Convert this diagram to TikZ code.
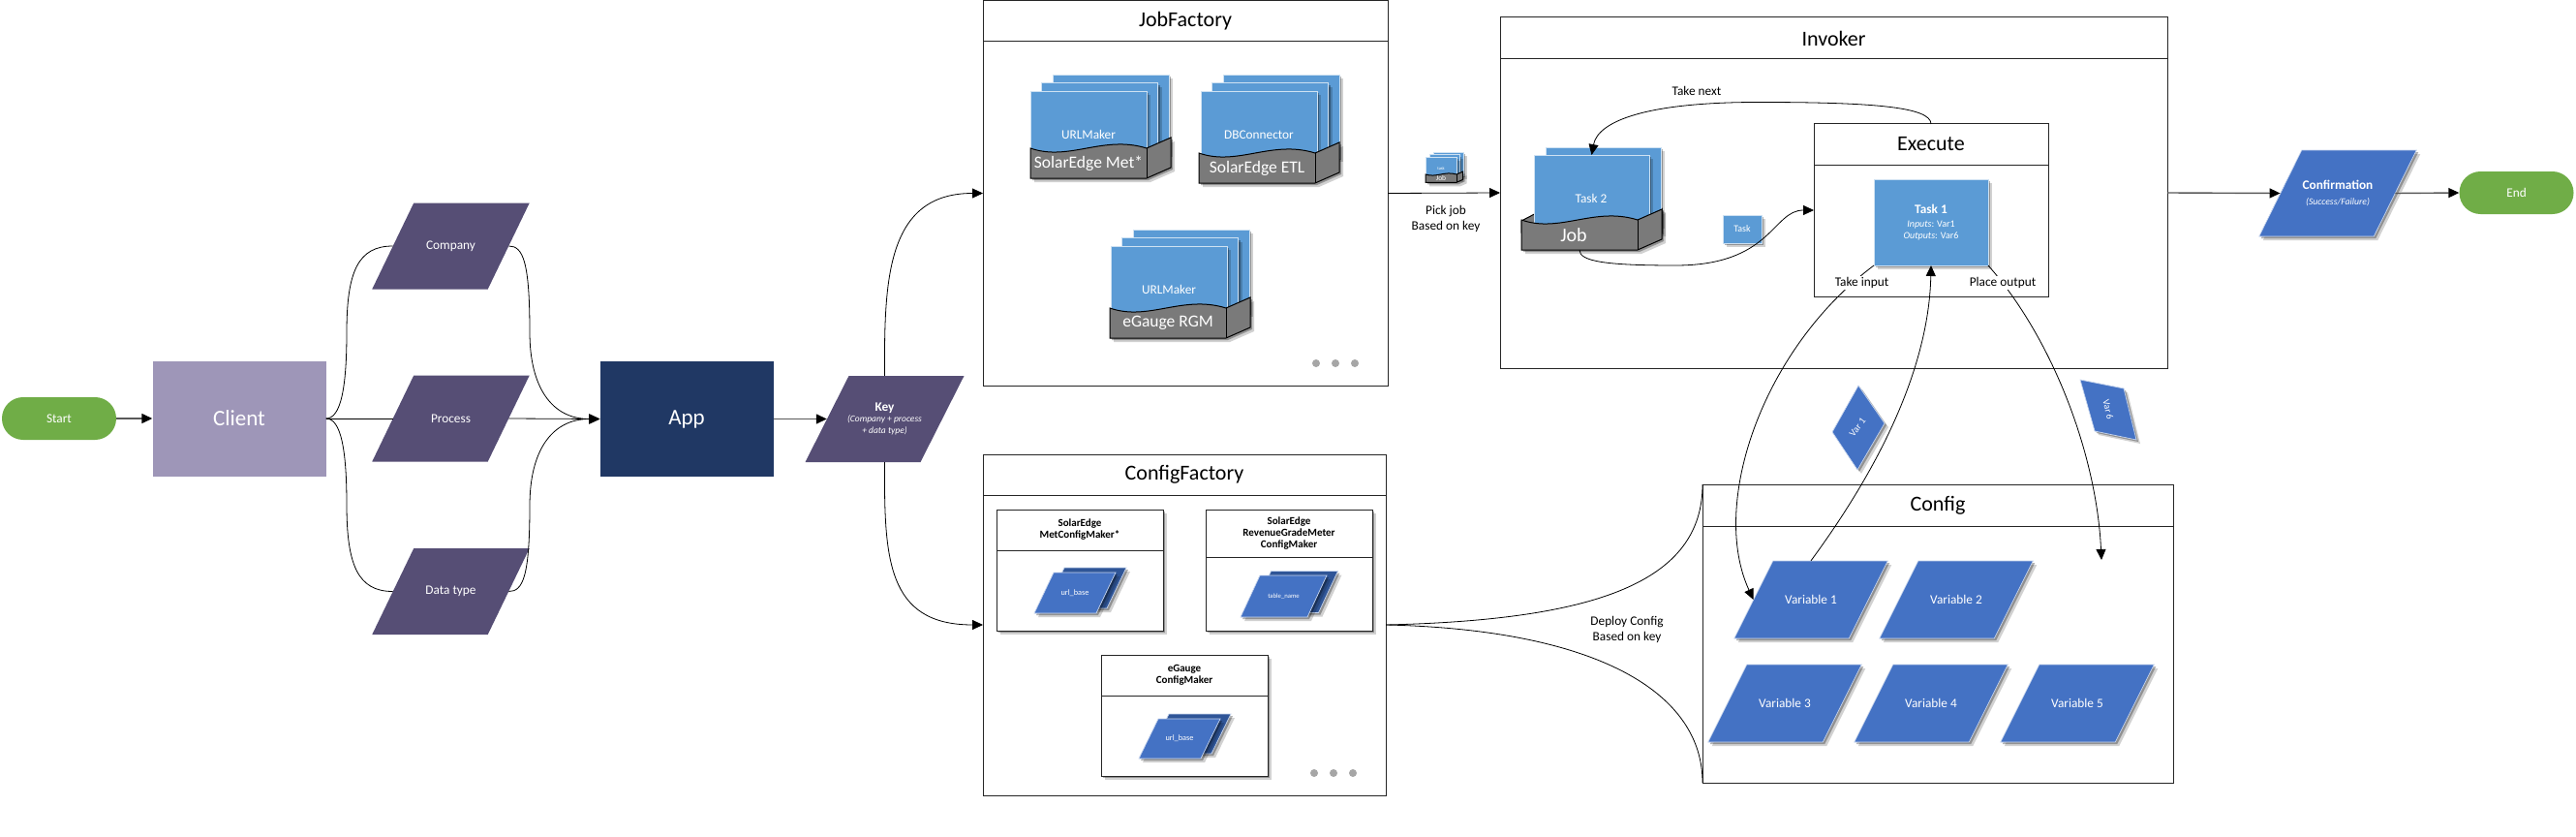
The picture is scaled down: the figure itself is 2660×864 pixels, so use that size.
\documentclass[tikz,border=0pt]{standalone}
\usepackage{fontspec}
\setmainfont{Carlito}
\usepackage{tikz}
\usetikzlibrary{positioning,arrows.meta,calc,shadows}
\definecolor{leaf}{RGB}{112,173,71}
\definecolor{lilac}{RGB}{158,150,184}
\definecolor{navy}{RGB}{32,56,100}
\definecolor{plum}{RGB}{86,78,117}
\definecolor{cobalt}{RGB}{68,114,196}
\definecolor{deepcobalt}{RGB}{47,85,151}
\definecolor{sky}{RGB}{91,155,213}
\definecolor{slab}{RGB}{122,122,122}
\newcommand{\fsz}[2]{\fontsize{#1}{#2}\selectfont}
\tikzset{
  softshadow/.style={drop shadow={shadow xshift=4pt,shadow yshift=-4pt,opacity=.18,fill=black},drop shadow={shadow xshift=2pt,shadow yshift=-2pt,opacity=.3,fill=black}},
  txt/.style={inner sep=0pt,align=center,font=\fsz{13.3}{16}},
  whitetxt/.style={txt,text=white},
  terminal/.style={whitetxt,fill=leaf,rounded corners=21.9pt,minimum width=118,minimum height=44},
  bigbox/.style={whitetxt,font=\fsz{23}{27},minimum width=179,minimum height=119},
  plumfill/.style={fill=plum},
  bluefill/.style={fill=cobalt,draw=white!70!cobalt,line width=.7pt,softshadow},
  backfill/.style={fill=deepcobalt,draw=white!70!cobalt,line width=.7pt,softshadow},
  panelbody/.style={draw=black!85,line width=1pt,fill=white,inner sep=0pt,outer sep=0pt},
  panelhead/.style={draw=black!85,line width=1pt,inner sep=0pt,outer sep=0pt,align=center,font=\fsz{22}{26}},
  makerhead/.style={panelhead,font=\fsz{11}{12}\bfseries},
  sheet/.style={fill=sky,draw=white!70!sky,line width=.7pt,inner sep=0pt,outer sep=0pt,softshadow},
  basefill/.style={fill=slab,draw=black,line width=1pt,softshadow},
  dotmark/.style={circle,fill=black!35,inner sep=0pt,minimum size=8},
  flow/.style={-{Triangle[length=11pt,width=10pt]},line width=.8pt,black},
  thickflow/.style={-{Triangle[length=11pt,width=10pt,black]},line width=1.4pt,black!65},
  link/.style={line width=.8pt,black},
}
\newcommand{\paranode}[7][bluefill]{
  \begin{scope}[shift={(#3)}]
    \path[#1] (-#4/2+#6/2,-#5/2) -- (#4/2+#6/2,-#5/2) -- (#4/2-#6/2,#5/2) -- (-#4/2-#6/2,#5/2) -- cycle;
  \end{scope}
  \node[whitetxt,minimum width=#4,minimum height=#5] (#2) at (#3) {#7};
}
\newcommand{\panel}[7]{
  \node[panelbody,minimum width=#4,minimum height=#5] (#1) at (#2,#3) {};
  \node[panelhead,minimum width=#4,minimum height=#6,anchor=north] (#1-head) at (#1.north) {\raisebox{-1.5pt}{#7}};
}
\newcommand{\maker}[7]{
  \node[panelbody,softshadow,minimum width=#4,minimum height=#5] (#1) at (#2,#3) {};
  \node[makerhead,minimum width=#4,minimum height=#6,anchor=north] (#1-head) at (#1.north) {#7};
}
\newcommand{\basebox}[5][1]{
  \begin{scope}[shift={(#3,#4)},scale=#1]
    \path[basefill] (0,0) .. controls (40,14) and (75,-14) .. (120,0) -- (145,-11) -- (145,20) -- (120,31) -- (0,31) -- cycle;
    \draw[line width=1pt] (120,0) -- (120,31);
  \end{scope}
  \node[whitetxt,minimum width=#1*120,minimum height=#1*31] (#2) at (#3+#1*60,#4+#1*15.5) {#5};
}
\newcommand{\jobstack}[7]{
  \foreach \d in {2,1,0}
    \node[sheet,anchor=north west,minimum width=120,minimum height=#5+5-#3+\d*8.3] (#1-page\d) at (#2+\d*11.7,#3-\d*8.3) {};
  \node[whitetxt] (#1-maker) at (#2+60,#3+45) {#6};
  \basebox{#1-base}{#4}{#5}{\fsz{17.5}{20}#7}
}

\begin{document}
\begin{tikzpicture}[x=1pt,y=-1pt]
  \useasboundingbox (0,0) rectangle (2660,864);
  \node[terminal] (start) at (61,432) {Start};
  \node[bigbox,fill=lilac] (client) at (247,432) {Client};
  \node[bigbox,fill=navy] (app) at (709,432.5) {App};
  \paranode[plumfill]{company}{465.5,254}{119.5}{89}{43}{Company}
  \paranode[plumfill]{process}{465.5,432}{119.5}{89}{43}{Process}
  \paranode[plumfill]{datatype}{465.5,610.5}{119.5}{89}{43}{Data type}
  \paranode[plumfill]{key}{913.5,432.5}{119}{89}{45}{\textbf{Key}\\[-5pt]\fsz{9.5}{12}\textit{(Company + process}\\[-4pt]\fsz{9.5}{12}\textit{+ data type)}}

  \panel{jobfactory}{1224}{199.5}{418}{397}{42}{JobFactory}
  \jobstack{met}{1064}{94}{1064}{153}{URLMaker}{SolarEdge Met*}
  \jobstack{etl}{1240}{94}{1238}{158}{DBConnector}{SolarEdge ETL}
  \jobstack{rgm}{1147}{254}{1146}{318}{URLMaker}{eGauge RGM}
  \foreach \x in {1359,1379,1399}
    \node[dotmark] (jobdot\x) at (\x,375) {};

  \panel{configfactory}{1223}{645}{416}{352}{42}{ConfigFactory}
  \maker{metmaker}{1115}{588.5}{172}{125}{42}{SolarEdge\\MetConfigMaker*}
  \maker{revmaker}{1331}{588.5}{172}{125}{49}{SolarEdge\\RevenueGradeMeter\\ConfigMaker}
  \maker{gaugemaker}{1223}{738.5}{172}{125}{42}{eGauge\\ConfigMaker}
  \paranode[backfill]{metback}{1121,607}{64}{42}{20}{}
  \paranode{metfront}{1110,612}{64}{42}{20}{\fsz{8.3}{10}url\_base}
  \paranode[backfill]{revback}{1337,611}{69}{43}{20}{}
  \paranode{revfront}{1325.5,615.5}{69}{43}{20}{\fsz{6.7}{8}table\_name}
  \paranode[backfill]{gaugeback}{1229,757.5}{64}{41}{20}{}
  \paranode{gaugefront}{1218,762.5}{64}{41}{20}{\fsz{8.3}{10}url\_base}
  \foreach \x in {1357,1377,1397}
    \node[dotmark] (configdot\x) at (\x,798) {};

  \node[sheet,anchor=north west,minimum width=31,minimum height=24] (smallback) at (1480,157) {};
  \node[sheet,anchor=north west,minimum width=31,minimum height=24] (smallmid) at (1476,159.5) {};
  \node[sheet,anchor=north west,minimum width=32,minimum height=20] (smallfront) at (1472,162) {};
  \node[whitetxt,font=\fsz{4.5}{5}] (smalltask) at (1488,174) {task};
  \basebox[.267]{smalljob}{1472}{180}{\fsz{7.5}{8}Job}
  \node[txt] (pick) at (1493,226) {Pick job\\Based on key};

  \panel{invoker}{1893.5}{199}{689}{362}{43}{Invoker}
  \panel{execute}{1994}{217}{242}{178}{42}{Execute}
  \path[basefill] (1571,228) -- (1596,215) -- (1716,215) -- (1716,240) -- (1571,240) -- cycle;
  \node[sheet,anchor=north west,minimum width=119,minimum height=80] (jobback) at (1596,152) {};
  \node[sheet,anchor=north west,minimum width=119,minimum height=72] (jobfront) at (1584,160) {};
  \node[whitetxt] (task2) at (1643,205) {Task 2};
  \basebox{job}{1571}{227}{\fsz{20}{22}\hspace*{-12pt}Job}
  \node[sheet,whitetxt,font=\fsz{10}{12},minimum width=40,minimum height=29] (task) at (1799,236.5) {Task};
  \node[sheet,whitetxt,minimum width=118,minimum height=89] (task1) at (1994,229.5) {\textbf{Task 1}\\[-2pt]\fsz{10}{12}\textit{Inputs}: Var1\\[-4pt]\fsz{10}{12}\textit{Outputs}: Var6};

  \panel{config}{2001}{654}{486}{308}{43}{Config}
  \paranode{var1}{1870,619}{118.5}{80}{40}{Variable 1}
  \paranode{var2}{2020,619}{118.5}{80}{40}{Variable 2}
  \paranode{var3}{1843,726}{118.5}{80}{40}{Variable 3}
  \paranode{var4}{1994,726}{118.5}{80}{40}{Variable 4}
  \paranode{var5}{2145,726}{118.5}{80}{40}{Variable 5}
  \path[bluefill] (1919,398) -- (1946,437) -- (1918,485) -- (1892,446) -- cycle;
  \node[whitetxt,font=\fsz{10}{12},rotate=52] (varone) at (1918,441) {Var 1};
  \path[bluefill] (2148,392) -- (2193,401) -- (2206,454) -- (2163,445) -- cycle;
  \node[whitetxt,font=\fsz{10}{12},rotate=-77] (varsix) at (2177,423) {Var 6};
  \coordinate (output) at (2170,578);

  \paranode{confirm}{2414,199.5}{118.5}{89}{44}{\textbf{Confirmation}\\\fsz{9.7}{12}\textit{(Success/Failure)}}
  \node[terminal] (end) at (2598.5,199) {End};

  \draw[thickflow] (start)--(client);
  \draw[link] (client.east) .. controls (352,432) and (358,400) .. (358,343) .. controls (358,280) and (370,254) .. (company.west);
  \draw[link] (client.east)--(process.west);
  \draw[link] (client.east) .. controls (352,432) and (358,464) .. (358,521) .. controls (358,584) and (370,610.5) .. (datatype.west);
  \draw[flow] (company.east) .. controls (540,254) and (547,270) .. (547,343) .. controls (547,400) and (570,432.5) .. (app.west);
  \draw[flow] (process.east)--(app.west);
  \draw[flow] (datatype.east) .. controls (540,610.5) and (547,595) .. (547,522) .. controls (547,465) and (570,432.5) .. (app.west);
  \draw[thickflow] (app.east)--(key.west);
  \draw[flow] (key.north) .. controls (913,290) and (915,199.5) .. (jobfactory.west);
  \draw[flow] (key.south) .. controls (913,575) and (915,645) .. (configfactory.west);
  \draw[flow] (jobfactory.east)--(invoker.west);
  \draw[link] (configfactory.east) .. controls (1650,640) and (1758,600) .. (config.north west);
  \draw[link] (configfactory.east) .. controls (1650,650) and (1758,715) .. (config.south west);
  \node[txt] (deploy) at (1680,650) {Deploy Config\\Based on key};
  \draw[flow] (execute.north) .. controls (1994,110) and (1930,105.5) .. (1815,105.5) .. controls (1700,105.5) and (1650,125) .. (jobfront.north);
  \node[txt] (next) at (1752,94) {Take next};
  \draw[flow] (job.south) .. controls (1631,270) and (1660,274) .. (1730,274) .. controls (1830,274) and (1830,217) .. (execute.west);
  \draw[flow] (task1.south west) .. controls (1820,360) and (1765,520) .. (var1.west);
  \draw[flow] (var1.north) .. controls (1950,470) and (1992,370) .. (task1.south);
  \draw[flow] (task1.south east) .. controls (2120,350) and (2165,470) .. (output);
  \node[txt,fill=white,inner sep=1.5pt] (takein) at (1922.5,292) {Take input};
  \node[txt,fill=white,inner sep=1.5pt] (placeout) at (2068,292) {Place output};
  \draw[thickflow] (invoker.east)--(confirm.west);
  \draw[thickflow] (confirm.east)--(end.west);
\end{tikzpicture}
\end{document}
